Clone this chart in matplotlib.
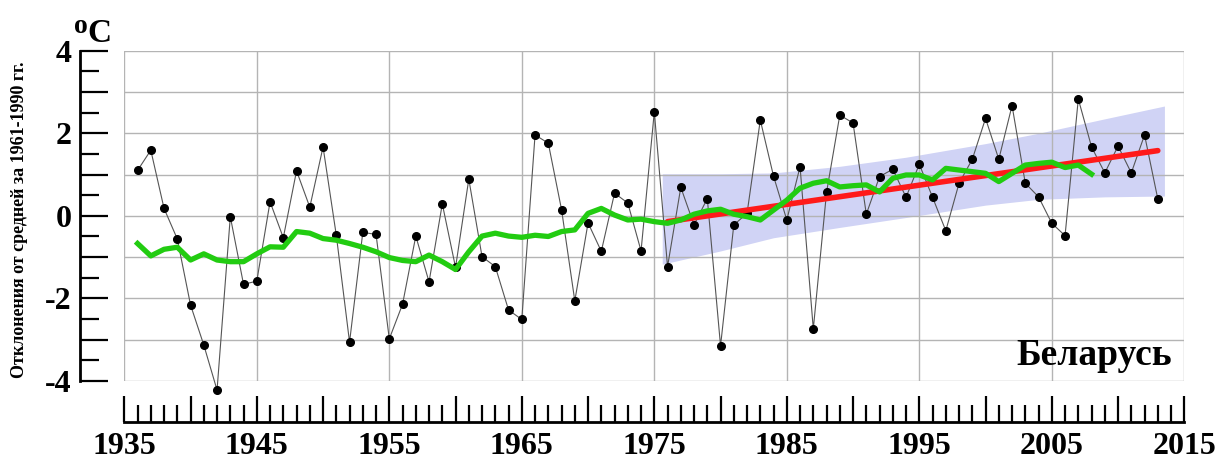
import matplotlib
matplotlib.use("Agg")
import matplotlib.pyplot as plt
from matplotlib.ticker import MultipleLocator, FuncFormatter

# ---------------- data ----------------
years = list(range(1936, 2014))
anomaly = [1.10, 1.59, 0.18, -0.56, -2.16, -3.13, -4.22, -0.02, -1.66, -1.58,
           0.34, -0.53, 1.09, 0.21, 1.67, -0.47, -3.06, -0.40, -0.45, -2.98,
           -2.14, -0.49, -1.60, 0.29, -1.25, 0.89, -0.99, -1.23, -2.28, -2.51,
           1.96, 1.76, 0.15, -2.06, -0.17, -0.86, 0.55, 0.31, -0.85, 2.52,
           -1.23, 0.69, -0.22, 0.42, -3.15, -0.22, 0.06, 2.32, 0.96, -0.10,
           1.19, -2.74, 0.57, 2.44, 2.25, 0.04, 0.95, 1.13, 0.45, 1.25,
           0.45, -0.36, 0.79, 1.37, 2.36, 1.37, 2.67, 0.79, 0.46, -0.18,
           -0.48, 2.83, 1.67, 1.04, 1.69, 1.04, 1.96, 0.41]

smooth_years = list(range(1936, 2009))
smooth = [-0.67, -0.97, -0.81, -0.76, -1.07, -0.92, -1.07, -1.11, -1.11, -0.92,
          -0.75, -0.76, -0.38, -0.42, -0.55, -0.59, -0.67, -0.76, -0.87, -1.01,
          -1.08, -1.11, -0.95, -1.11, -1.30, -0.87, -0.49, -0.42, -0.49, -0.52,
          -0.47, -0.50, -0.38, -0.34, 0.06, 0.18, 0.02, -0.10, -0.08, -0.14,
          -0.18, -0.10, 0.04, 0.12, 0.16, 0.04, -0.02, -0.10, 0.14, 0.38,
          0.67, 0.79, 0.85, 0.70, 0.73, 0.75, 0.58, 0.91, 0.99, 0.99,
          0.87, 1.15, 1.11, 1.07, 1.03, 0.83, 1.03, 1.23, 1.27, 1.30,
          1.17, 1.23, 1.01]

trend_years = [1976, 2013]
trend_values = [-0.14, 1.58]

band_years = [1975.6, 1980, 1984, 1989, 1994, 2000, 2004, 2009, 2013.5]
band_upper = [1.02, 1.02, 1.04, 1.20, 1.42, 1.75, 2.00, 2.35, 2.66]
band_lower = [-1.17, -0.85, -0.53, -0.28, -0.04, 0.26, 0.40, 0.46, 0.48]

x_labels_years = [1935, 1945, 1955, 1965, 1975, 1985, 1995, 2005, 2015]
y_labels = [-4, -2, 0, 2, 4]

region = "Беларусь"
ylabel = "Отклонения от средней за 1961-1990 гг."

# ---------------- figure ----------------
W, H = 1221, 459
fig = plt.figure(figsize=(W / 100, H / 100), dpi=100)
fig.patch.set_facecolor("white")
serif = "Liberation Serif"

left_px, right_px, top_px, bot_px = 124.3, 1184.3, 50.7, 381.0
ax = fig.add_axes([left_px / W, 1 - bot_px / H, (right_px - left_px) / W, (bot_px - top_px) / H])
ax.set_xlim(1935, 2015)
ax.set_ylim(-4, 4)

# grid box
for gx in range(1935, 2016, 10):
    ax.axvline(gx, color="#b4b4b4", lw=1.0, zorder=1.5)
for gy in range(-4, 5):
    ax.axhline(gy, color="#b4b4b4", lw=1.0, zorder=1.5)

# band
ax.fill_between(band_years, band_lower, band_upper, color="#d0d3f5", lw=0, zorder=1)

# data series
ax.plot(years, anomaly, color="#555555", lw=0.8, zorder=3, clip_on=False)
ax.plot(years, anomaly, "o", color="black", ms=5.5, zorder=3.5, clip_on=False)
ax.plot(trend_years, trend_values, color="#ff1a1a", lw=4.0, zorder=4, solid_capstyle="round")
ax.plot(smooth_years, smooth, color="#22cc11", lw=3.8, zorder=5)

# spines
for s in ["top", "right"]:
    ax.spines[s].set_visible(False)
ax.spines["left"].set_position(("outward", 44.3 * 0.72))
ax.spines["bottom"].set_position(("outward", 41 * 0.72))
ax.spines["left"].set_linewidth(2)
ax.spines["bottom"].set_linewidth(2)
ax.spines["left"].set_bounds(-4, 4)
ax.spines["bottom"].set_bounds(1935, 2015)

ax.yaxis.set_major_locator(MultipleLocator(1))
ax.yaxis.set_minor_locator(MultipleLocator(0.5))
ax.yaxis.set_major_formatter(FuncFormatter(lambda v, p: f"{int(round(v))}" if int(round(v)) in y_labels else ""))
ax.xaxis.set_major_locator(MultipleLocator(5))
ax.xaxis.set_minor_locator(MultipleLocator(1))
ax.xaxis.set_major_formatter(FuncFormatter(lambda v, p: f"{int(round(v))}" if int(round(v)) in x_labels_years else ""))

ax.tick_params(axis="y", which="major", direction="in", length=20, width=1.6, pad=6,
               labelsize=23)
ax.tick_params(axis="y", which="minor", direction="in", length=14, width=1.6)
ax.tick_params(axis="x", which="major", direction="in", length=18.5, width=1.6, pad=7,
               labelsize=23)
ax.tick_params(axis="x", which="minor", direction="in", length=12.5, width=1.6)
for lab in ax.get_xticklabels() + ax.get_yticklabels():
    lab.set_fontfamily(serif)
    lab.set_fontweight("bold")

# texts
ax.text(0.988, (bot_px - 365) / (bot_px - top_px), region, transform=ax.transAxes,
        ha="right", va="baseline", fontsize=27, fontweight="bold", fontfamily=serif, zorder=6)
fig.text(20 / W, 1 - 220 / H, ylabel, rotation=90, ha="center", va="center",
         fontsize=13, fontweight="bold", fontfamily=serif)
fig.text(80.5 / W, 1 - 33 / H, "o", ha="center", va="baseline",
         fontsize=20, fontweight="bold", fontfamily=serif)
fig.text(99.5 / W, 1 - 42 / H, "C", ha="center", va="baseline",
         fontsize=24, fontweight="bold", fontfamily=serif)

fig.savefig("out.png", dpi=100, facecolor="white")
